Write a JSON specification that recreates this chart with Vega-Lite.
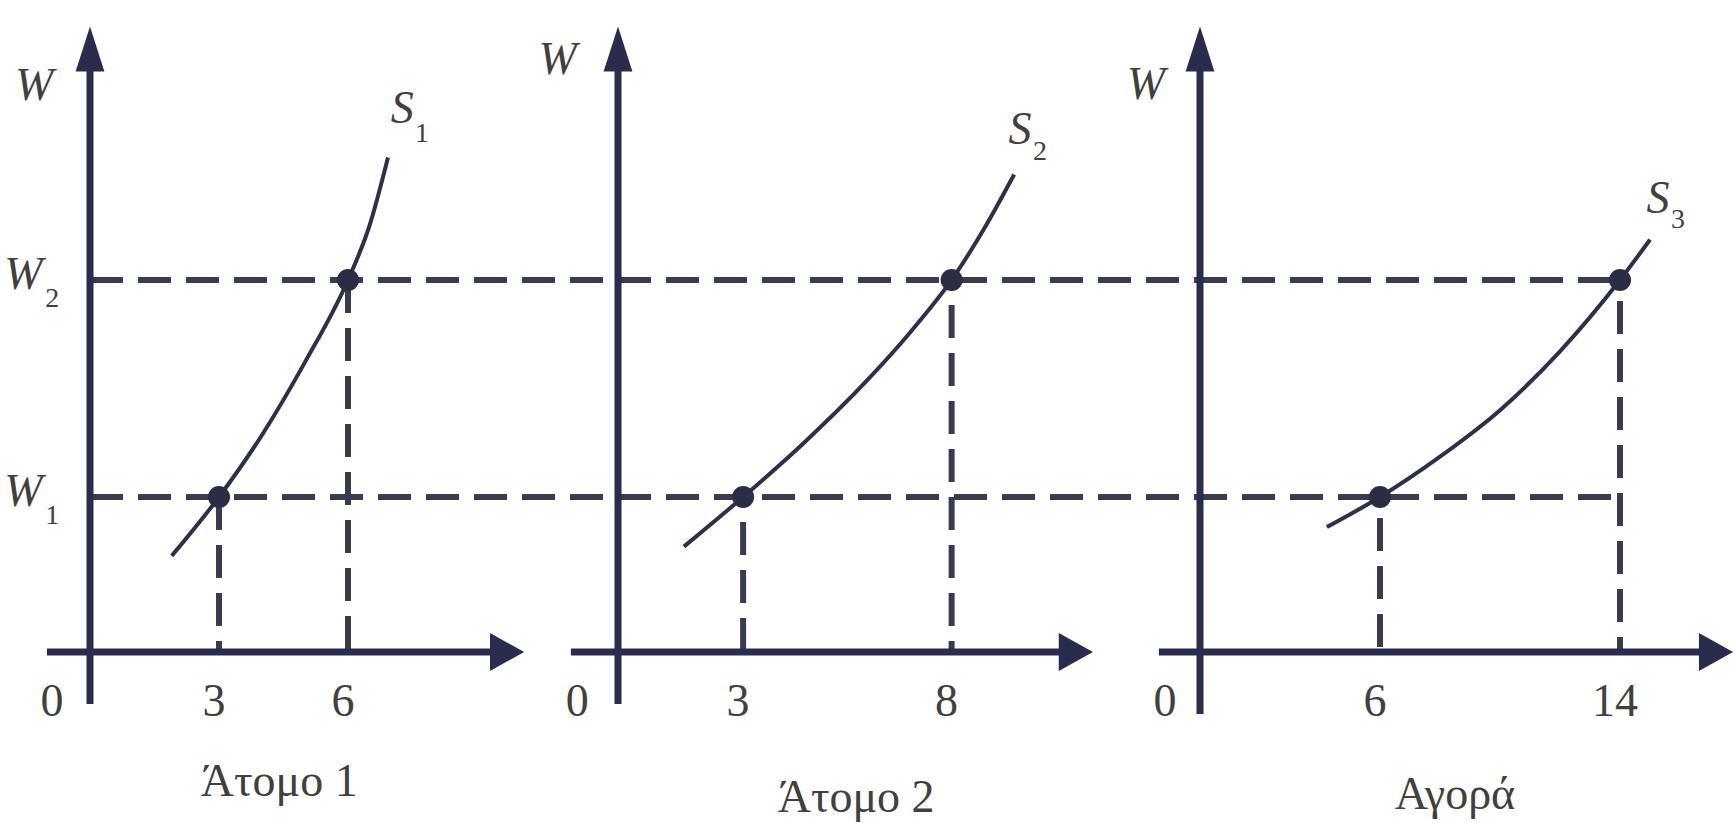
{
  "$schema": "https://vega.github.io/schema/vega-lite/v6.json",
  "background": "white",
  "padding": 0,
  "spacing": 0,
  "bounds": "flush",
  "config": {"view": {"stroke": null}, "concat": {"spacing": 0}},
  "datasets": {
    "axes": [
      {"panel": 1, "q": 0, "w": -3.35, "q2": 0, "w2": 37.7},
      {"panel": 1, "q": -1.0, "w": 0, "q2": 9.35, "w2": 0},
      {"panel": 2, "q": 0, "w": -3.35, "q2": 0, "w2": 37.7},
      {"panel": 2, "q": -1.13, "w": 0, "q2": 10.6, "w2": 0},
      {"panel": 3, "q": 0, "w": -4.0, "q2": 0, "w2": 37.7},
      {"panel": 3, "q": -1.37, "w": 0, "q2": 16.8, "w2": 0}
    ],
    "arrows": [
      {"panel": 1, "q": 0, "w": 38.9, "dir": "up"},
      {"panel": 1, "q": 9.7, "w": 0, "dir": "right"},
      {"panel": 2, "q": 0, "w": 38.9, "dir": "up"},
      {"panel": 2, "q": 10.98, "w": 0, "dir": "right"},
      {"panel": 3, "q": 0, "w": 38.9, "dir": "up"},
      {"panel": 3, "q": 17.2, "w": 0, "dir": "right"}
    ],
    "guides": [
      {"panel": 1, "q": 0, "w": 24, "q2": 10.581, "w2": 24},
      {"panel": 1, "q": 0, "w": 10, "q2": 10.581, "w2": 10},
      {"panel": 1, "q": 3, "w": 10, "q2": 3, "w2": 0},
      {"panel": 1, "q": 6, "w": 24, "q2": 6, "w2": 0},
      {"panel": 2, "q": -1.751, "w": 24, "q2": 12.158, "w2": 24},
      {"panel": 2, "q": -1.751, "w": 10, "q2": 12.158, "w2": 10},
      {"panel": 2, "q": 3, "w": 10, "q2": 3, "w2": 0},
      {"panel": 2, "q": 8, "w": 24, "q2": 8, "w2": 0},
      {"panel": 3, "q": -2.5, "w": 24, "q2": 14, "w2": 24},
      {"panel": 3, "q": -2.5, "w": 10, "q2": 14, "w2": 10},
      {"panel": 3, "q": 6, "w": 10, "q2": 6, "w2": 0},
      {"panel": 3, "q": 14, "w": 24, "q2": 14, "w2": 0}
    ],
    "curves": [
      {"panel": 1, "q": 1.9, "w": 6.2},
      {"panel": 1, "q": 3, "w": 10},
      {"panel": 1, "q": 4, "w": 14.0},
      {"panel": 1, "q": 5, "w": 18.7},
      {"panel": 1, "q": 6, "w": 24},
      {"panel": 1, "q": 6.5, "w": 27.5},
      {"panel": 1, "q": 6.93, "w": 31.9},
      {"panel": 2, "q": 1.58, "w": 6.8},
      {"panel": 2, "q": 3, "w": 10},
      {"panel": 2, "q": 4.5, "w": 13.6},
      {"panel": 2, "q": 6, "w": 17.6},
      {"panel": 2, "q": 7, "w": 20.6},
      {"panel": 2, "q": 8, "w": 24},
      {"panel": 2, "q": 8.8, "w": 27.4},
      {"panel": 2, "q": 9.5, "w": 30.8},
      {"panel": 3, "q": 4.23, "w": 8.06},
      {"panel": 3, "q": 6, "w": 10},
      {"panel": 3, "q": 8, "w": 12.6},
      {"panel": 3, "q": 10, "w": 15.6},
      {"panel": 3, "q": 12, "w": 19.4},
      {"panel": 3, "q": 14, "w": 24},
      {"panel": 3, "q": 15.0, "w": 26.6}
    ],
    "dots": [
      {"panel": 1, "q": 3, "w": 10},
      {"panel": 1, "q": 6, "w": 24},
      {"panel": 2, "q": 3, "w": 10},
      {"panel": 2, "q": 8, "w": 24},
      {"panel": 3, "q": 6, "w": 10},
      {"panel": 3, "q": 14, "w": 24}
    ],
    "italic": [
      {"panel": 1, "q": -1.3, "w": 36.5, "text": "W"},
      {"panel": 1, "q": -1.55, "w": 24.3, "text": "W"},
      {"panel": 1, "q": -1.55, "w": 10.3, "text": "W"},
      {"panel": 1, "q": 7.26, "w": 35.0, "text": "S"},
      {"panel": 2, "q": -1.45, "w": 38.2, "text": "W"},
      {"panel": 2, "q": 9.64, "w": 33.7, "text": "S"},
      {"panel": 3, "q": -1.8, "w": 36.6, "text": "W"},
      {"panel": 3, "q": 15.27, "w": 29.2, "text": "S"}
    ],
    "subs": [
      {"panel": 1, "q": -0.88, "w": 22.75, "text": "2"},
      {"panel": 1, "q": -0.88, "w": 8.75, "text": "1"},
      {"panel": 1, "q": 7.72, "w": 33.4, "text": "1"},
      {"panel": 2, "q": 10.12, "w": 32.25, "text": "2"},
      {"panel": 3, "q": 15.93, "w": 27.9, "text": "3"}
    ],
    "ticks": [
      {"panel": 1, "q": -0.77, "w": -3.2, "text": "0"},
      {"panel": 1, "q": 3, "w": -3.2, "text": "3"},
      {"panel": 1, "q": 6, "w": -3.2, "text": "6"},
      {"panel": 2, "q": -0.86, "w": -3.2, "text": "0"},
      {"panel": 2, "q": 3, "w": -3.2, "text": "3"},
      {"panel": 2, "q": 8, "w": -3.2, "text": "8"},
      {"panel": 3, "q": -1.0, "w": -3.2, "text": "0"},
      {"panel": 3, "q": 6, "w": -3.2, "text": "6"},
      {"panel": 3, "q": 14, "w": -3.2, "text": "14"}
    ],
    "titles": [
      {"panel": 1, "q": 4.4, "w": -8.4, "text": "Άτομο 1"},
      {"panel": 2, "q": 5.71, "w": -9.4, "text": "Άτομο 2"},
      {"panel": 3, "q": 8.5, "w": -9.2, "text": "Αγορά"}
    ]
  },
  "hconcat": [
    {
      "width": 545, "height": 823,
      "encoding": {
        "x": {"field": "q", "type": "quantitative", "scale": {"domain": [-2.093, 10.581], "nice": false, "zero": false}, "axis": null},
        "y": {"field": "w", "type": "quantitative", "scale": {"domain": [-11.03, 42.06], "nice": false, "zero": false}, "axis": null}
      },
      "layer": [
        {"data": {"name": "guides"}, "transform": [{"filter": "datum.panel == 1"}], "mark": {"type": "rule", "strokeWidth": 6, "strokeDash": [33, 15], "color": "#383c50"}, "encoding": {"x2": {"field": "q2"}, "y2": {"field": "w2"}}},
        {"data": {"name": "axes"}, "transform": [{"filter": "datum.panel == 1"}], "mark": {"type": "rule", "strokeWidth": 7, "color": "#2a2c4d"}, "encoding": {"x2": {"field": "q2"}, "y2": {"field": "w2"}}},
        {"data": {"name": "arrows"}, "transform": [{"filter": "datum.panel == 1"}], "mark": {"type": "point", "filled": true, "opacity": 1, "size": 2025, "color": "#2a2c4d", "strokeWidth": 0}, "encoding": {"shape": {"field": "dir", "type": "nominal", "scale": {"domain": ["up", "right"], "range": ["M0,-1L0.64,1L-0.64,1Z", "M0.76,0L-0.76,-0.84L-0.76,0.84Z"]}, "legend": null}}},
        {"data": {"name": "curves"}, "transform": [{"filter": "datum.panel == 1"}], "mark": {"type": "line", "strokeWidth": 4, "interpolate": "monotone", "color": "#2d3048"}, "encoding": {}},
        {"data": {"name": "dots"}, "transform": [{"filter": "datum.panel == 1"}], "mark": {"type": "point", "shape": "circle", "filled": true, "opacity": 1, "size": 484, "color": "#2b2d45"}, "encoding": {}},
        {"data": {"name": "italic"}, "transform": [{"filter": "datum.panel == 1"}], "mark": {"type": "text", "font": "Liberation Serif", "fontStyle": "italic", "fontSize": 46, "color": "#404040", "align": "center", "baseline": "middle"}, "encoding": {"text": {"field": "text"}}},
        {"data": {"name": "subs"}, "transform": [{"filter": "datum.panel == 1"}], "mark": {"type": "text", "font": "Liberation Serif", "fontSize": 28, "color": "#404040", "align": "center", "baseline": "middle"}, "encoding": {"text": {"field": "text"}}},
        {"data": {"name": "ticks"}, "transform": [{"filter": "datum.panel == 1"}], "mark": {"type": "text", "font": "Liberation Serif", "fontSize": 46, "dx": -5, "color": "#404040", "align": "center", "baseline": "middle"}, "encoding": {"text": {"field": "text"}}},
        {"data": {"name": "titles"}, "transform": [{"filter": "datum.panel == 1"}], "mark": {"type": "text", "font": "Liberation Serif", "fontSize": 46, "color": "#404040", "align": "center", "baseline": "middle"}, "encoding": {"text": {"field": "text"}}}
      ]
    },
    {
      "width": 580, "height": 823,
      "encoding": {
        "x": {"field": "q", "type": "quantitative", "scale": {"domain": [-1.751, 12.158], "nice": false, "zero": false}, "axis": null},
        "y": {"field": "w", "type": "quantitative", "scale": {"domain": [-11.03, 42.06], "nice": false, "zero": false}, "axis": null}
      },
      "layer": [
        {"data": {"name": "guides"}, "transform": [{"filter": "datum.panel == 2"}], "mark": {"type": "rule", "strokeWidth": 6, "strokeDash": [33, 15], "strokeDashOffset": 23, "color": "#383c50"}, "encoding": {"x2": {"field": "q2"}, "y2": {"field": "w2"}}},
        {"data": {"name": "axes"}, "transform": [{"filter": "datum.panel == 2"}], "mark": {"type": "rule", "strokeWidth": 7, "color": "#2a2c4d"}, "encoding": {"x2": {"field": "q2"}, "y2": {"field": "w2"}}},
        {"data": {"name": "arrows"}, "transform": [{"filter": "datum.panel == 2"}], "mark": {"type": "point", "filled": true, "opacity": 1, "size": 2025, "color": "#2a2c4d", "strokeWidth": 0}, "encoding": {"shape": {"field": "dir", "type": "nominal", "scale": {"domain": ["up", "right"], "range": ["M0,-1L0.64,1L-0.64,1Z", "M0.76,0L-0.76,-0.84L-0.76,0.84Z"]}, "legend": null}}},
        {"data": {"name": "curves"}, "transform": [{"filter": "datum.panel == 2"}], "mark": {"type": "line", "strokeWidth": 4, "interpolate": "monotone", "color": "#2d3048"}, "encoding": {}},
        {"data": {"name": "dots"}, "transform": [{"filter": "datum.panel == 2"}], "mark": {"type": "point", "shape": "circle", "filled": true, "opacity": 1, "size": 484, "color": "#2b2d45"}, "encoding": {}},
        {"data": {"name": "italic"}, "transform": [{"filter": "datum.panel == 2"}], "mark": {"type": "text", "font": "Liberation Serif", "fontStyle": "italic", "fontSize": 46, "color": "#404040", "align": "center", "baseline": "middle"}, "encoding": {"text": {"field": "text"}}},
        {"data": {"name": "subs"}, "transform": [{"filter": "datum.panel == 2"}], "mark": {"type": "text", "font": "Liberation Serif", "fontSize": 28, "color": "#404040", "align": "center", "baseline": "middle"}, "encoding": {"text": {"field": "text"}}},
        {"data": {"name": "ticks"}, "transform": [{"filter": "datum.panel == 2"}], "mark": {"type": "text", "font": "Liberation Serif", "fontSize": 46, "dx": -5, "color": "#404040", "align": "center", "baseline": "middle"}, "encoding": {"text": {"field": "text"}}},
        {"data": {"name": "titles"}, "transform": [{"filter": "datum.panel == 2"}], "mark": {"type": "text", "font": "Liberation Serif", "fontSize": 46, "color": "#404040", "align": "center", "baseline": "middle"}, "encoding": {"text": {"field": "text"}}}
      ]
    },
    {
      "width": 610, "height": 823,
      "encoding": {
        "x": {"field": "q", "type": "quantitative", "scale": {"domain": [-2.5, 17.833], "nice": false, "zero": false}, "axis": null},
        "y": {"field": "w", "type": "quantitative", "scale": {"domain": [-11.03, 42.06], "nice": false, "zero": false}, "axis": null}
      },
      "layer": [
        {"data": {"name": "guides"}, "transform": [{"filter": "datum.panel == 3"}], "mark": {"type": "rule", "strokeWidth": 6, "strokeDash": [33, 15], "strokeDashOffset": 27, "color": "#383c50"}, "encoding": {"x2": {"field": "q2"}, "y2": {"field": "w2"}}},
        {"data": {"name": "axes"}, "transform": [{"filter": "datum.panel == 3"}], "mark": {"type": "rule", "strokeWidth": 7, "color": "#2a2c4d"}, "encoding": {"x2": {"field": "q2"}, "y2": {"field": "w2"}}},
        {"data": {"name": "arrows"}, "transform": [{"filter": "datum.panel == 3"}], "mark": {"type": "point", "filled": true, "opacity": 1, "size": 2025, "color": "#2a2c4d", "strokeWidth": 0}, "encoding": {"shape": {"field": "dir", "type": "nominal", "scale": {"domain": ["up", "right"], "range": ["M0,-1L0.64,1L-0.64,1Z", "M0.76,0L-0.76,-0.84L-0.76,0.84Z"]}, "legend": null}}},
        {"data": {"name": "curves"}, "transform": [{"filter": "datum.panel == 3"}], "mark": {"type": "line", "strokeWidth": 4, "interpolate": "monotone", "color": "#2d3048"}, "encoding": {}},
        {"data": {"name": "dots"}, "transform": [{"filter": "datum.panel == 3"}], "mark": {"type": "point", "shape": "circle", "filled": true, "opacity": 1, "size": 484, "color": "#2b2d45"}, "encoding": {}},
        {"data": {"name": "italic"}, "transform": [{"filter": "datum.panel == 3"}], "mark": {"type": "text", "font": "Liberation Serif", "fontStyle": "italic", "fontSize": 46, "color": "#404040", "align": "center", "baseline": "middle"}, "encoding": {"text": {"field": "text"}}},
        {"data": {"name": "subs"}, "transform": [{"filter": "datum.panel == 3"}], "mark": {"type": "text", "font": "Liberation Serif", "fontSize": 28, "color": "#404040", "align": "center", "baseline": "middle"}, "encoding": {"text": {"field": "text"}}},
        {"data": {"name": "ticks"}, "transform": [{"filter": "datum.panel == 3"}], "mark": {"type": "text", "font": "Liberation Serif", "fontSize": 46, "dx": -5, "color": "#404040", "align": "center", "baseline": "middle"}, "encoding": {"text": {"field": "text"}}},
        {"data": {"name": "titles"}, "transform": [{"filter": "datum.panel == 3"}], "mark": {"type": "text", "font": "Liberation Serif", "fontSize": 46, "color": "#404040", "align": "center", "baseline": "middle"}, "encoding": {"text": {"field": "text"}}}
      ]
    }
  ]
}
